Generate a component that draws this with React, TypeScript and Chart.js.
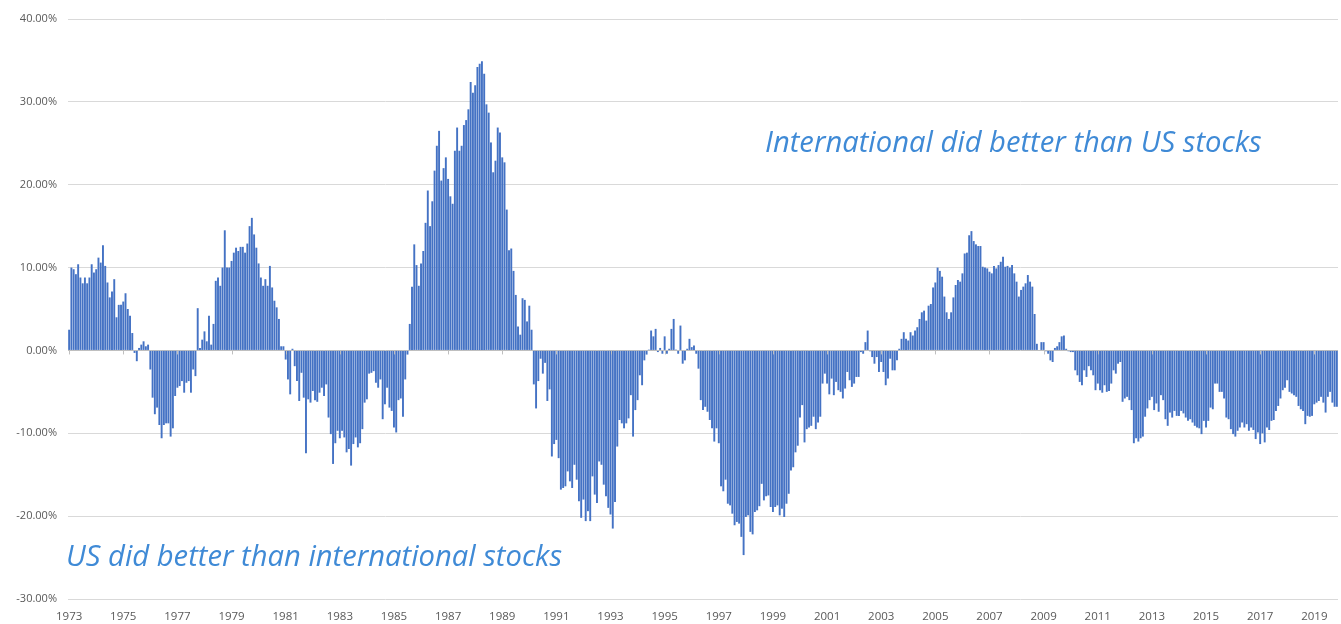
import { useEffect, useRef } from 'react';
import { Chart, registerables } from 'chart.js';

Chart.register(...registerables);

// Monthly relative performance (International minus US), percent
const y1973 = [2.5, 10.0, 9.8, 9.2, 10.4, 8.8, 8.1, 8.8, 8.1, 8.8, 10.4, 9.4];
const y1974 = [9.8, 11.2, 10.6, 12.7, 10.2, 8.2, 6.4, 7.1, 8.6, 4.0, 5.5, 5.5];
const y1975 = [5.9, 6.9, 5.0, 4.2, 2.1, -0.3, -1.3, 0.3, 0.7, 1.1, 0.5, 0.7];
const y1976 = [-2.3, -5.7, -7.7, -6.9, -9.0, -10.6, -9.0, -8.8, -8.8, -10.4, -9.4, -5.5];
const y1977 = [-4.5, -4.3, -3.7, -5.1, -3.9, -3.7, -5.1, -2.3, -3.1, 5.1, 0.3, 1.3];
const y1978 = [2.3, 1.1, 4.2, 0.7, 3.2, 8.4, 8.8, 7.8, 10.0, 14.5, 10.0, 10.0];
const y1979 = [10.8, 11.8, 12.4, 12.0, 12.5, 12.5, 11.8, 12.9, 15.0, 16.0, 14.0, 12.4];
const y1980 = [10.5, 8.8, 7.8, 8.6, 7.8, 10.2, 7.6, 6.0, 5.2, 3.8, 0.5, 0.5];
const y1981 = [-1.1, -3.5, -5.3, 0.2, -1.9, -3.7, -6.1, -2.7, -5.7, -12.4, -5.9, -6.3];
const y1982 = [-4.9, -6.0, -6.2, -5.1, -4.5, -5.5, -4.1, -8.1, -10.1, -13.7, -11.2, -9.7];
const y1983 = [-10.6, -9.7, -10.5, -12.3, -11.9, -13.9, -11.3, -10.5, -11.7, -11.2, -9.5, -6.3];
const y1984 = [-5.9, -2.8, -2.7, -2.5, -3.9, -4.5, -3.5, -8.3, -6.5, -4.5, -6.9, -7.3];
const y1985 = [-9.3, -9.9, -6.0, -5.8, -8.0, -3.5, -0.5, 3.2, 7.7, 12.8, 10.3, 7.8];
const y1986 = [10.5, 12.0, 15.4, 19.3, 15.0, 18.0, 21.7, 24.7, 26.5, 20.5, 22.0, 23.3];
const y1987 = [20.7, 18.6, 17.7, 24.1, 26.9, 24.1, 24.7, 27.2, 27.8, 29.1, 32.4, 31.1];
const y1988 = [32.0, 34.2, 34.6, 34.9, 33.4, 29.7, 28.7, 25.1, 21.5, 22.9, 26.9, 26.3];
const y1989 = [23.3, 22.7, 17.0, 12.1, 12.3, 9.6, 6.7, 2.9, 1.9, 6.3, 6.1, 3.5];
const y1990 = [5.4, 2.5, -4.1, -7.0, -3.7, -1.0, -2.8, -1.5, -6.1, -4.7, -12.8, -11.3];
const y1991 = [-10.8, -13.0, -16.8, -16.6, -16.4, -14.6, -15.8, -16.6, -13.8, -15.6, -18.2, -20.2];
const y1992 = [-18.0, -20.6, -19.4, -20.6, -15.2, -17.4, -18.4, -13.4, -13.8, -16.2, -17.6, -19.0];
const y1993 = [-19.8, -21.5, -18.3, -11.6, -8.4, -8.8, -9.4, -8.8, -8.2, -5.4, -10.4, -7.2];
const y1994 = [-6.0, -3.0, -4.2, -1.2, -0.5, 0.1, 2.4, 1.7, 2.6, -0.2, 0.3, -0.4];
const y1995 = [1.7, -0.4, 0.2, 2.6, 3.8, 0.1, -0.4, 3.0, -1.6, -1.2, 0.2, 1.4];
const y1996 = [0.4, 0.6, -0.4, -2.2, -6.0, -7.2, -6.8, -7.4, -8.4, -9.4, -11.0, -9.4];
const y1997 = [-11.2, -16.4, -17.0, -15.6, -18.5, -18.7, -19.7, -21.1, -20.7, -20.9, -22.5, -24.7];
const y1998 = [-20.1, -19.9, -21.9, -22.2, -19.5, -19.3, -18.8, -16.1, -18.1, -17.6, -17.5, -18.9];
const y1999 = [-19.5, -18.9, -18.7, -19.9, -19.1, -20.1, -18.5, -17.3, -14.5, -14.1, -12.3, -11.5];
const y2000 = [-8.1, -6.6, -11.1, -9.5, -9.3, -9.1, -8.0, -9.5, -8.7, -8.0, -4.0, -2.8];
const y2001 = [-4.0, -5.3, -3.4, -5.4, -3.8, -4.8, -5.0, -5.8, -4.6, -2.6, -3.6, -4.4];
const y2002 = [-4.0, -3.2, -3.2, -0.2, -0.4, 1.0, 2.4, -0.1, -0.8, -1.6, -0.8, -2.6];
const y2003 = [-1.4, -2.6, -4.2, -3.4, -1.0, -2.4, -2.4, -1.2, 0.2, 1.4, 2.2, 1.4];
const y2004 = [1.2, 2.2, 1.8, 2.4, 2.8, 3.8, 4.6, 4.8, 3.6, 5.4, 5.6, 7.6];
const y2005 = [8.2, 10.0, 9.6, 8.9, 6.5, 4.6, 3.8, 4.6, 6.4, 7.9, 8.5, 8.3];
const y2006 = [9.3, 11.7, 11.8, 13.9, 14.4, 13.2, 12.8, 12.6, 12.6, 10.1, 10.0, 9.9];
const y2007 = [9.5, 9.3, 10.2, 9.9, 10.3, 10.7, 11.3, 10.1, 10.2, 10.0, 10.3, 9.3];
const y2008 = [8.3, 6.5, 7.3, 7.7, 8.1, 9.1, 8.3, 7.7, 4.4, 0.8, 0.0, 1.0];
const y2009 = [1.0, -0.1, -0.4, -1.2, -1.4, 0.3, 0.5, 1.0, 1.7, 1.8, 0.2, -0.1];
const y2010 = [-0.2, -0.2, -2.4, -3.0, -3.8, -4.2, -2.4, -3.2, -1.9, -2.4, -3.0, -4.8];
const y2011 = [-4.0, -4.8, -5.1, -4.2, -5.0, -4.9, -4.0, -2.4, -2.8, -1.6, -1.4, -6.2];
const y2012 = [-5.8, -5.6, -6.0, -7.2, -11.2, -10.6, -11.0, -10.6, -10.4, -8.0, -7.0, -6.0];
const y2013 = [-5.6, -7.2, -6.4, -7.4, -5.4, -6.0, -8.3, -9.1, -7.5, -8.1, -7.3, -7.9];
const y2014 = [-7.9, -7.3, -7.6, -8.1, -8.5, -8.3, -8.7, -9.1, -9.3, -9.4, -10.1, -8.5];
const y2015 = [-9.3, -8.5, -6.9, -7.1, -4.0, -4.0, -5.0, -5.0, -5.8, -8.1, -8.3, -9.5];
const y2016 = [-10.1, -10.4, -9.7, -9.3, -8.7, -9.3, -8.9, -9.7, -9.3, -9.6, -10.7, -9.9];
const y2017 = [-11.3, -10.0, -11.1, -9.3, -9.6, -8.5, -8.4, -7.3, -6.7, -5.8, -4.8, -4.5];
const y2018 = [-3.6, -5.0, -5.2, -5.4, -5.6, -6.7, -7.1, -7.3, -8.9, -7.9, -8.0, -7.9];
const y2019 = [-6.5, -6.3, -6.1, -5.6, -6.3, -7.5, -5.6, -5.0, -6.3, -6.8, -6.8];

const years: [number, number[]][] = [
  [1973, y1973], [1974, y1974], [1975, y1975], [1976, y1976], [1977, y1977],
  [1978, y1978], [1979, y1979], [1980, y1980], [1981, y1981], [1982, y1982],
  [1983, y1983], [1984, y1984], [1985, y1985], [1986, y1986], [1987, y1987],
  [1988, y1988], [1989, y1989], [1990, y1990], [1991, y1991], [1992, y1992],
  [1993, y1993], [1994, y1994], [1995, y1995], [1996, y1996], [1997, y1997],
  [1998, y1998], [1999, y1999], [2000, y2000], [2001, y2001], [2002, y2002],
  [2003, y2003], [2004, y2004], [2005, y2005], [2006, y2006], [2007, y2007],
  [2008, y2008], [2009, y2009], [2010, y2010], [2011, y2011], [2012, y2012],
  [2013, y2013], [2014, y2014], [2015, y2015], [2016, y2016], [2017, y2017],
  [2018, y2018], [2019, y2019],
];

const categories = years.flatMap(([yr, v]) =>
  v.map((_, i) => `${yr}-${String(i + 1).padStart(2, '0')}`)
);
const values = years.flatMap(([, v]) => v);

const yMin = -30;
const yMax = 40;
const yStep = 10;
const firstLabelYear = 1973;
const labelEveryYears = 2;

const noteUp = 'International did better than US stocks';
const noteDown = 'US did better than international stocks';

const isLabelTick = (idx: number) => {
  const c = categories[idx];
  if (!c || !c.endsWith('-01')) return false;
  return (parseInt(c.slice(0, 4), 10) - firstLabelYear) % labelEveryYears === 0;
};

const zeroTicksPlugin = {
  id: 'zeroTicks',
  afterDatasetsDraw(chart: any) {
    const { ctx, scales } = chart;
    const x = scales.x;
    const y = scales.y;
    const y0 = y.getPixelForValue(0);
    ctx.save();
    ctx.strokeStyle = '#bfbfbf';
    ctx.lineWidth = 1;
    ctx.beginPath();
    categories.forEach((_, i) => {
      if (isLabelTick(i)) {
        const px = Math.round(x.getPixelForValue(i)) + 0.5;
        ctx.moveTo(px, y0);
        ctx.lineTo(px, y0 + 4);
      }
    });
    ctx.stroke();
    ctx.restore();
  },
};

export default function App() {
  const ref = useRef<HTMLCanvasElement>(null);

  useEffect(() => {
    document.body.style.margin = '0';
    const chart = new Chart(ref.current as HTMLCanvasElement, {
      type: 'bar',
      data: {
        labels: categories,
        datasets: [
          {
            data: values,
            backgroundColor: '#4472c4',
            borderWidth: 0,
            barPercentage: 0.85,
            categoryPercentage: 1,
          },
        ],
      },
      options: {
        animation: false,
        responsive: true,
        maintainAspectRatio: false,
        layout: { padding: { top: 19, right: 3, left: 0, bottom: 0 } },
        plugins: { legend: { display: false }, tooltip: { enabled: false } },
        scales: {
          x: {
            type: 'category',
            grid: { display: false, drawTicks: false },
            border: { display: false },
            afterBuildTicks: (scale: any) => {
              scale.ticks = scale.ticks.filter((t: any) => isLabelTick(t.value));
            },
            afterFit: (scale: any) => {
              scale.height = 25;
            },
            ticks: {
              autoSkip: false,
              maxRotation: 0,
              minRotation: 0,
              padding: 11,
              color: '#595959',
              font: { family: 'Open Sans', size: 11.5 },
              callback: (v: any) => categories[Number(v)].slice(0, 4),
            },
          },
          y: {
            min: yMin,
            max: yMax,
            grid: {
              drawTicks: false,
              color: (c: any) => (c.tick && c.tick.value === 0 ? '#bfbfbf' : '#d9d9d9'),
              lineWidth: 1,
            },
            border: { display: false },
            afterFit: (scale: any) => {
              scale.width = 68;
            },
            ticks: {
              stepSize: yStep,
              padding: 11,
              color: '#595959',
              font: { family: 'Open Sans', size: 11 },
              callback: (v: any) => `${Number(v).toFixed(2)}%`,
            },
          },
        },
      },
      plugins: [zeroTicksPlugin],
    });
    return () => chart.destroy();
  }, []);

  const noteStyle: any = {
    position: 'absolute',
    fontFamily: '"Open Sans", sans-serif',
    fontStyle: 'italic',
    fontSize: 29.2,
    lineHeight: '32px',
    color: '#3f8ad6',
    whiteSpace: 'nowrap',
  };

  return (
    <div style={{ position: 'absolute', left: 0, top: 0, width: 1341, height: 624, background: '#fff' }}>
      <canvas ref={ref} />
      <div style={{ ...noteStyle, left: 765, top: 125 }}>{noteUp}</div>
      <div style={{ ...noteStyle, left: 66, top: 539 }}>{noteDown}</div>
    </div>
  );
}
